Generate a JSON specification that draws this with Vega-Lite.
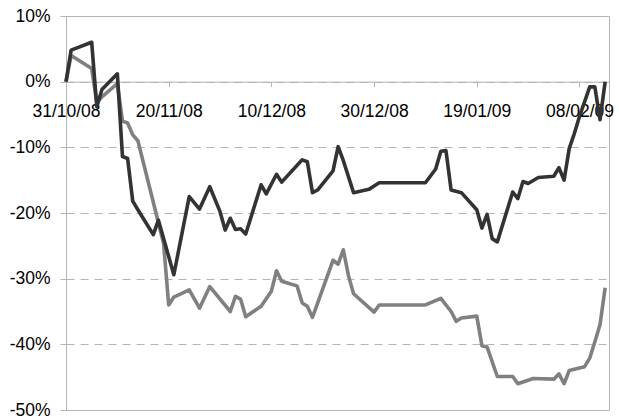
{
  "$schema": "https://vega.github.io/schema/vega-lite/v6.json",
  "width": 543,
  "height": 394,
  "autosize": "none",
  "padding": {"left": 66, "top": 16, "right": 10, "bottom": 6},
  "background": "white",
  "config": {
    "view": {"stroke": "#b4b4b4", "strokeWidth": 1},
    "axis": {"labelFont": "Liberation Sans", "labelFontSize": 17.5, "labelColor": "#000000", "title": null}
  },
  "datasets": {
    "dark": [
      {"date": "2008-10-31", "value": 0},
      {"date": "2008-11-01", "value": 4.8},
      {"date": "2008-11-05", "value": 6.0},
      {"date": "2008-11-06", "value": -3.8},
      {"date": "2008-11-07", "value": -1.2},
      {"date": "2008-11-10", "value": 1.2},
      {"date": "2008-11-11", "value": -11.4},
      {"date": "2008-11-12", "value": -11.7},
      {"date": "2008-11-13", "value": -18.2},
      {"date": "2008-11-14", "value": -19.5},
      {"date": "2008-11-17", "value": -23.3},
      {"date": "2008-11-18", "value": -21.1},
      {"date": "2008-11-21", "value": -29.4},
      {"date": "2008-11-24", "value": -17.5},
      {"date": "2008-11-26", "value": -19.4},
      {"date": "2008-11-28", "value": -16.0},
      {"date": "2008-11-30", "value": -19.8},
      {"date": "2008-12-01", "value": -22.6},
      {"date": "2008-12-02", "value": -20.8},
      {"date": "2008-12-03", "value": -22.5},
      {"date": "2008-12-04", "value": -22.4},
      {"date": "2008-12-05", "value": -23.2},
      {"date": "2008-12-08", "value": -15.7},
      {"date": "2008-12-09", "value": -17.1},
      {"date": "2008-12-11", "value": -14.1},
      {"date": "2008-12-12", "value": -15.3},
      {"date": "2008-12-16", "value": -11.9},
      {"date": "2008-12-17", "value": -12.2},
      {"date": "2008-12-18", "value": -16.9},
      {"date": "2008-12-19", "value": -16.5},
      {"date": "2008-12-22", "value": -13.6},
      {"date": "2008-12-23", "value": -9.9},
      {"date": "2008-12-24", "value": -12.0},
      {"date": "2008-12-26", "value": -16.9},
      {"date": "2008-12-29", "value": -16.4},
      {"date": "2008-12-30", "value": -15.9},
      {"date": "2008-12-31", "value": -15.4},
      {"date": "2009-01-09", "value": -15.4},
      {"date": "2009-01-11", "value": -13.3},
      {"date": "2009-01-12", "value": -10.6},
      {"date": "2009-01-13", "value": -10.5},
      {"date": "2009-01-14", "value": -16.5},
      {"date": "2009-01-16", "value": -16.9},
      {"date": "2009-01-19", "value": -19.5},
      {"date": "2009-01-20", "value": -22.3},
      {"date": "2009-01-21", "value": -20.2},
      {"date": "2009-01-22", "value": -23.9},
      {"date": "2009-01-23", "value": -24.4},
      {"date": "2009-01-26", "value": -16.8},
      {"date": "2009-01-27", "value": -17.8},
      {"date": "2009-01-28", "value": -15.2},
      {"date": "2009-01-29", "value": -15.5},
      {"date": "2009-01-31", "value": -14.6},
      {"date": "2009-02-03", "value": -14.4},
      {"date": "2009-02-04", "value": -13.1},
      {"date": "2009-02-05", "value": -15.0},
      {"date": "2009-02-06", "value": -10.2},
      {"date": "2009-02-07", "value": -7.9},
      {"date": "2009-02-08", "value": -5.3},
      {"date": "2009-02-10", "value": -0.8},
      {"date": "2009-02-11", "value": -0.8},
      {"date": "2009-02-12", "value": -5.8},
      {"date": "2009-02-13", "value": 0.0}
    ],
    "gray": [
      {"date": "2008-10-31", "value": 0},
      {"date": "2008-11-01", "value": 4.0},
      {"date": "2008-11-05", "value": 2.0},
      {"date": "2008-11-06", "value": -3.2},
      {"date": "2008-11-07", "value": -2.3},
      {"date": "2008-11-10", "value": -0.3},
      {"date": "2008-11-11", "value": -6.0},
      {"date": "2008-11-12", "value": -6.3},
      {"date": "2008-11-13", "value": -8.1},
      {"date": "2008-11-14", "value": -9.0},
      {"date": "2008-11-19", "value": -24.6},
      {"date": "2008-11-20", "value": -34.0},
      {"date": "2008-11-21", "value": -32.8},
      {"date": "2008-11-24", "value": -31.7},
      {"date": "2008-11-26", "value": -34.5},
      {"date": "2008-11-28", "value": -31.2},
      {"date": "2008-12-02", "value": -35.0},
      {"date": "2008-12-03", "value": -32.7},
      {"date": "2008-12-04", "value": -33.1},
      {"date": "2008-12-05", "value": -35.8},
      {"date": "2008-12-08", "value": -34.2},
      {"date": "2008-12-10", "value": -31.9},
      {"date": "2008-12-11", "value": -28.8},
      {"date": "2008-12-12", "value": -30.4},
      {"date": "2008-12-15", "value": -31.1},
      {"date": "2008-12-16", "value": -33.7},
      {"date": "2008-12-17", "value": -34.2},
      {"date": "2008-12-18", "value": -35.9},
      {"date": "2008-12-22", "value": -27.2},
      {"date": "2008-12-23", "value": -27.8},
      {"date": "2008-12-24", "value": -25.6},
      {"date": "2008-12-25", "value": -29.5},
      {"date": "2008-12-26", "value": -32.3},
      {"date": "2008-12-30", "value": -35.1},
      {"date": "2008-12-31", "value": -34.0},
      {"date": "2009-01-09", "value": -34.0},
      {"date": "2009-01-12", "value": -33.0},
      {"date": "2009-01-14", "value": -35.0},
      {"date": "2009-01-15", "value": -36.5},
      {"date": "2009-01-16", "value": -36.0},
      {"date": "2009-01-19", "value": -35.7},
      {"date": "2009-01-20", "value": -40.2},
      {"date": "2009-01-21", "value": -40.4},
      {"date": "2009-01-23", "value": -44.9},
      {"date": "2009-01-26", "value": -44.9},
      {"date": "2009-01-27", "value": -46.0},
      {"date": "2009-01-30", "value": -45.2},
      {"date": "2009-02-03", "value": -45.3},
      {"date": "2009-02-04", "value": -44.5},
      {"date": "2009-02-05", "value": -46.0},
      {"date": "2009-02-06", "value": -44.0},
      {"date": "2009-02-09", "value": -43.4},
      {"date": "2009-02-10", "value": -42.1},
      {"date": "2009-02-11", "value": -39.6},
      {"date": "2009-02-12", "value": -37.0},
      {"date": "2009-02-13", "value": -31.4}
    ]
  },
  "encoding": {
    "x": {
      "field": "date",
      "type": "temporal",
      "scale": {
        "type": "utc",
        "domain": [
          {"year": 2008, "month": 10, "date": 31, "utc": true},
          {"year": 2009, "month": 2, "date": 13, "hours": 18, "utc": true}
        ]
      },
      "axis": {
        "orient": "bottom",
        "offset": -328.33,
        "values": [
          {"year": 2008, "month": 10, "date": 31, "utc": true},
          {"year": 2008, "month": 11, "date": 20, "utc": true},
          {"year": 2008, "month": 12, "date": 10, "utc": true},
          {"year": 2008, "month": 12, "date": 30, "utc": true},
          {"year": 2009, "month": 1, "date": 19, "utc": true},
          {"year": 2009, "month": 2, "date": 8, "utc": true}
        ],
        "format": "%d/%m/%y",
        "grid": false,
        "domainColor": "#b4b4b4",
        "tickColor": "#b4b4b4",
        "tickSize": 5,
        "labelPadding": 16,
        "labelOverlap": false,
        "labelBound": false,
        "labelFlush": false
      }
    },
    "y": {
      "field": "value",
      "type": "quantitative",
      "scale": {"domain": [-50, 10], "nice": false, "zero": false},
      "axis": {
        "values": [-50, -40, -30, -20, -10, 0, 10],
        "labelExpr": "datum.value + '%'",
        "grid": true,
        "gridColor": "#b4b4b4",
        "gridDash": [8, 6],
        "domainColor": "#b4b4b4",
        "tickColor": "#b4b4b4",
        "tickSize": 6,
        "labelPadding": 10
      }
    }
  },
  "layer": [
    {
      "data": {"name": "gray"},
      "mark": {"type": "line", "color": "#808080", "strokeWidth": 3.6, "strokeJoin": "round"}
    },
    {
      "data": {"name": "dark"},
      "mark": {"type": "line", "color": "#333333", "strokeWidth": 3.6, "strokeJoin": "round"}
    }
  ]
}
